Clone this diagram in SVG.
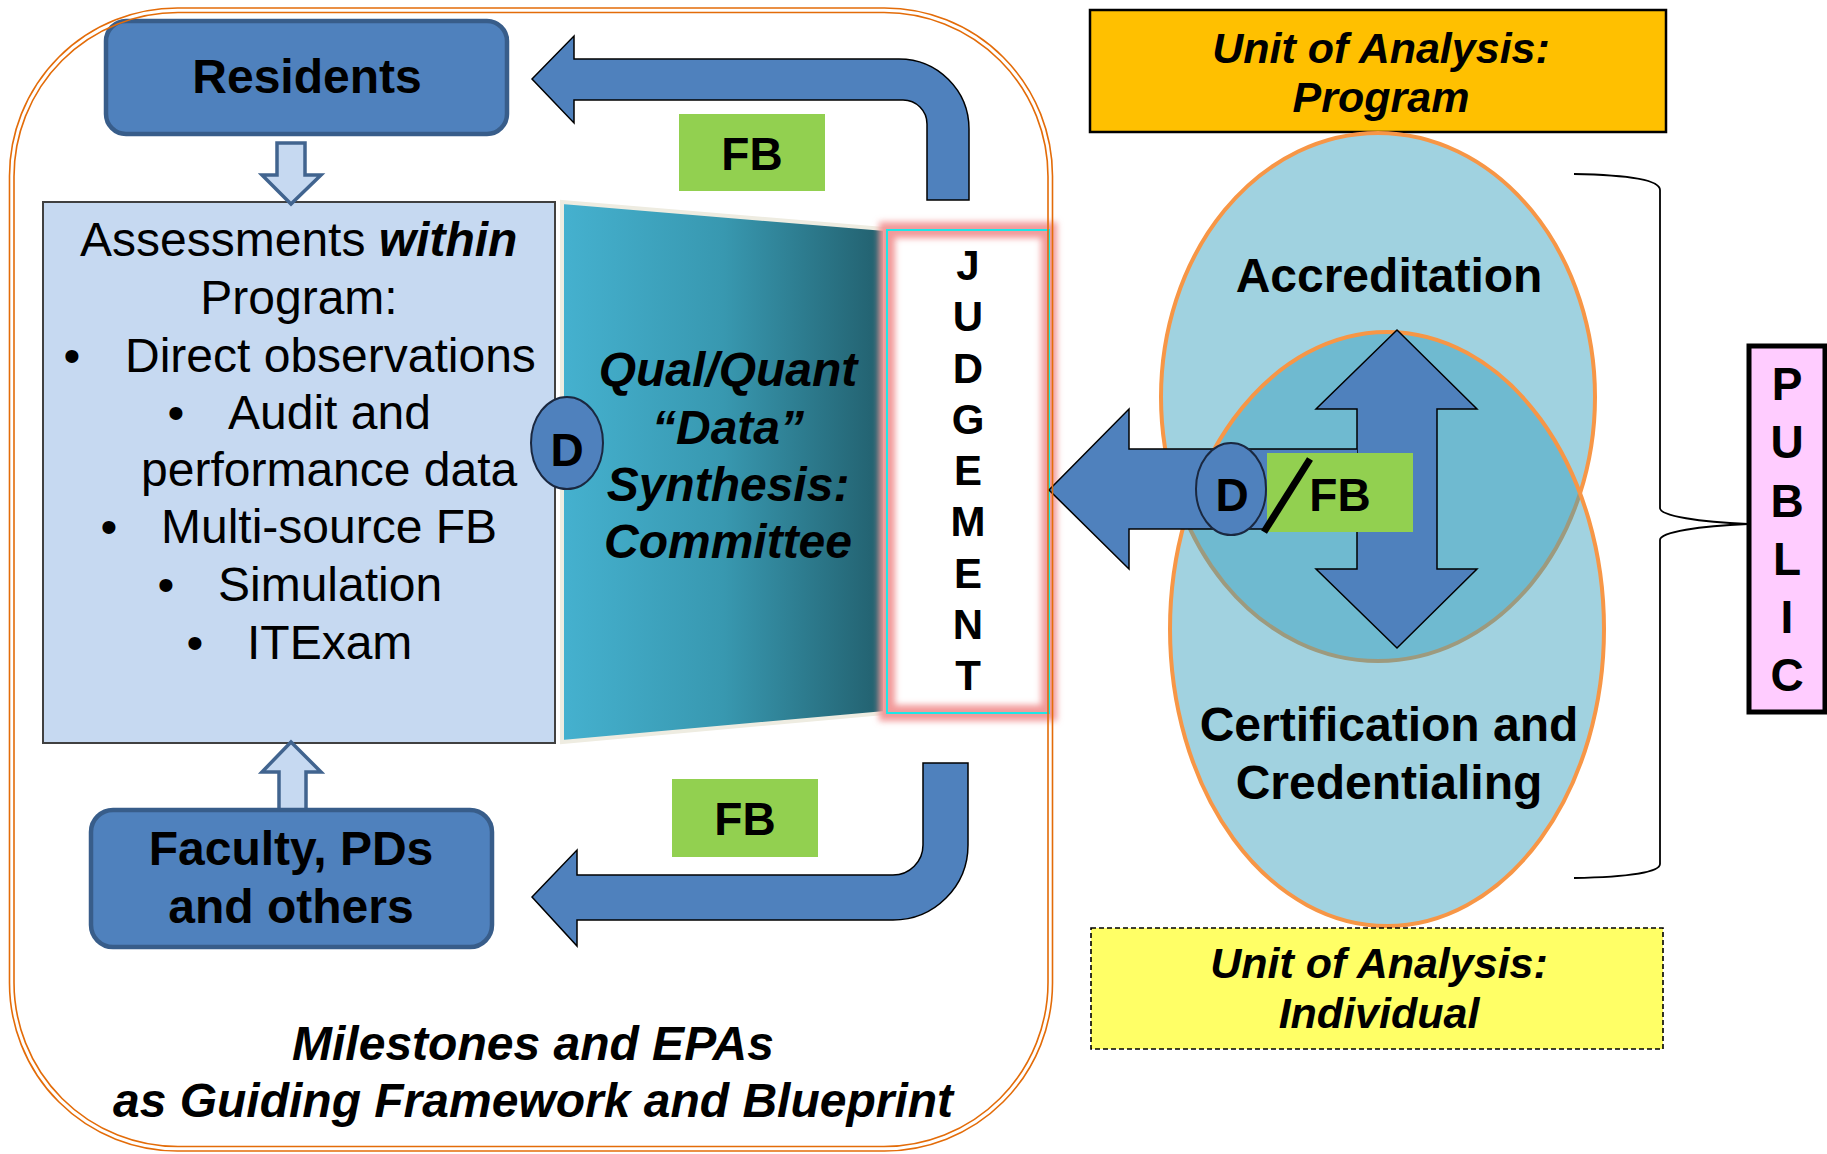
<svg xmlns="http://www.w3.org/2000/svg" width="1827" height="1154" viewBox="0 0 1827 1154">
<defs>
<style>
text{font-family:"Liberation Sans",Arial,sans-serif;fill:#000}
.b{font-weight:bold}
.bi{font-weight:bold;font-style:italic}
.c{text-anchor:middle}
.f48{font-size:48px}
.f46{font-size:46px}
.f43{font-size:43px}
.f42{font-size:42px}
.arrow{fill:#4F81BD;stroke:#000;stroke-width:1.5;stroke-linejoin:miter}
.hollow{fill:#C6D9F1;stroke:#41648F;stroke-width:3.5;stroke-linejoin:miter}
.fb{fill:#92D050}
.blue{fill:#4F81BD;stroke:#385D8A;stroke-width:4.5}
.dc{fill:#4F81BD;stroke:#1A2840;stroke-width:2}
.frame{fill:none;stroke:#E36C09;stroke-width:1.6}
.ell{stroke:#F79646;stroke-width:4}
</style>
<linearGradient id="teal" x1="0" y1="0" x2="1" y2="0">
<stop offset="0" stop-color="#45B1CF"/>
<stop offset="0.5" stop-color="#3898B0"/>
<stop offset="1" stop-color="#225F6D"/>
</linearGradient>
<filter id="glow" x="-20%" y="-10%" width="140%" height="120%"><feGaussianBlur stdDeviation="3"/></filter>
</defs>
<rect width="1827" height="1154" fill="#fff"/>

<g id="assessments">
<rect x="43" y="202" width="512" height="541" fill="#C6D9F1" stroke="#404040" stroke-width="2"/>
<text x="80" y="256" class="f48">Assessments <tspan class="bi">within</tspan></text>
<text x="299" y="314" class="f48 c">Program:</text>
<text x="72" y="372" class="f48 c">•</text><text x="125" y="372" class="f48">Direct observations</text>
<text x="176" y="429" class="f48 c">•</text><text x="228" y="429" class="f48">Audit and</text>
<text x="141" y="486" class="f48">performance data</text>
<text x="109" y="543" class="f48 c">•</text><text x="161" y="543" class="f48">Multi-source FB</text>
<text x="166" y="601" class="f48 c">•</text><text x="218" y="601" class="f48">Simulation</text>
<text x="195" y="659" class="f48 c">•</text><text x="247" y="659" class="f48">ITExam</text>
</g>

<g id="synthesis">
<polygon points="562,202 885,229 885,713 562,742" fill="url(#teal)" stroke="#EEECE1" stroke-width="4"/>
<text x="728" y="386" class="bi f48 c">Qual/Quant</text>
<text x="728" y="444" class="bi f48 c">“Data”</text>
<text x="728" y="501" class="bi f48 c">Synthesis:</text>
<text x="728" y="558" class="bi f48 c">Committee</text>
</g>

<g id="judgement">
<rect x="887" y="230" width="162" height="483" fill="#fff"/>
<rect x="887" y="230" width="162" height="483" fill="none" stroke="#F29A9A" stroke-width="16" filter="url(#glow)"/>
<rect x="887" y="230" width="162" height="483" fill="none" stroke="#1EE6E6" stroke-width="2"/>
<text x="968" y="280" class="b f42 c">J</text>
<text x="968" y="331" class="b f42 c">U</text>
<text x="968" y="383" class="b f42 c">D</text>
<text x="968" y="434" class="b f42 c">G</text>
<text x="968" y="485" class="b f42 c">E</text>
<text x="968" y="536" class="b f42 c">M</text>
<text x="968" y="588" class="b f42 c">E</text>
<text x="968" y="639" class="b f42 c">N</text>
<text x="968" y="690" class="b f42 c">T</text>
</g>

<g id="connectors">
<path class="hollow" d="M277,143 L305,143 L305,175 L321,175 L291,204 L262,175 L277,175 Z"/>
<path class="hollow" d="M291,742 L321,772 L306,772 L306,810 L279,810 L279,772 L262,772 Z"/>
<path class="arrow" d="M532,79 L574,36 L574,59 L899,59 A70,70 0 0 1 969,129 L969,200 L927,200 L927,124 A24,24 0 0 0 903,100 L574,100 L574,123 Z"/>
<path class="arrow" d="M532,897 L577,850 L577,875 L893,875 A30,30 0 0 0 923,845 L923,763 L968,763 L968,845 A75,75 0 0 1 893,920 L577,920 L577,946 Z"/>
</g>

<g id="residents">
<rect x="106" y="21" width="401" height="113" rx="20" class="blue"/>
<text x="307" y="93" class="b f48 c">Residents</text>
</g>

<g id="faculty">
<rect x="91" y="810" width="401" height="137" rx="22" class="blue"/>
<text x="291" y="865" class="b f48 c">Faculty, PDs</text>
<text x="291" y="923" class="b f48 c">and others</text>
</g>

<g id="fb-top">
<rect x="679" y="114" width="146" height="77" class="fb"/>
<text x="752" y="170" class="b f46 c">FB</text>
</g>
<g id="fb-bottom">
<rect x="672" y="779" width="146" height="78" class="fb"/>
<text x="745" y="835" class="b f46 c">FB</text>
</g>

<g id="d-left">
<ellipse cx="567" cy="443" rx="36" ry="46" class="dc"/>
<text x="567" y="466" class="b f46 c">D</text>
</g>

<g id="unit-program">
<rect x="1090" y="10" width="576" height="122" fill="#FFC000" stroke="#000" stroke-width="2.5"/>
<text x="1381" y="63" class="bi f43 c">Unit of Analysis:</text>
<text x="1381" y="112" class="bi f43 c">Program</text>
</g>

<g id="accreditation">
<ellipse cx="1378" cy="397" rx="217" ry="264" fill="#A0D2E0" class="ell"/>
</g>
<g id="certification">
<ellipse cx="1387" cy="629" rx="217" ry="297" fill="rgb(55,160,190)" fill-opacity="0.47" class="ell"/>
<text x="1389" y="741" class="b f48 c">Certification and</text>
<text x="1389" y="799" class="b f48 c">Credentialing</text>
</g>
<text x="1389" y="292" class="b f48 c">Accreditation</text>

<g id="right-arrows">
<path class="arrow" d="M1397,330 L1477,409 L1437,409 L1437,569 L1477,569 L1397,648 L1316,569 L1357,569 L1357,409 L1316,409 Z"/>
<path class="arrow" d="M1357,449 L1129,449 L1129,409 L1049,490 L1129,569 L1129,529 L1357,529"/>
</g>

<g id="d-fb-right">
<rect x="1267" y="453" width="146" height="79" class="fb"/>
<ellipse cx="1231" cy="489" rx="35" ry="46" class="dc"/>
<line x1="1310" y1="459" x2="1264" y2="532" stroke="#000" stroke-width="7"/>
<text x="1232" y="511" class="b f46 c">D</text>
<text x="1340" y="511" class="b f46 c">FB</text>
</g>

<g id="brace">
<path d="M1574,174 C1630,175 1660,180 1660,190 L1660,508 C1660,516 1700,522 1748,524 C1700,526 1660,532 1660,540 L1660,864 C1660,872 1630,877 1574,878" fill="none" stroke="#000" stroke-width="1.8"/>
</g>

<g id="public">
<rect x="1749" y="346" width="76" height="366" fill="#FFCCFF" stroke="#000" stroke-width="5"/>
<text x="1787" y="400" class="b f46 c">P</text>
<text x="1787" y="458" class="b f46 c">U</text>
<text x="1787" y="517" class="b f46 c">B</text>
<text x="1787" y="575" class="b f46 c">L</text>
<text x="1787" y="633" class="b f46 c">I</text>
<text x="1787" y="691" class="b f46 c">C</text>
</g>

<g id="unit-individual">
<rect x="1091" y="928" width="572" height="121" fill="#FFFF66" stroke="#000" stroke-width="1.6" stroke-dasharray="5,3"/>
<text x="1379" y="978" class="bi f43 c">Unit of Analysis:</text>
<text x="1379" y="1028" class="bi f43 c">Individual</text>
</g>

<g id="framework">
<rect x="9.5" y="8" width="1043" height="1143" rx="168" class="frame"/>
<rect x="14" y="12.5" width="1034" height="1134" rx="164" class="frame"/>
<text x="533" y="1060" class="bi f48 c">Milestones and EPAs</text>
<text x="533" y="1117" class="bi f48 c">as Guiding Framework and Blueprint</text>
</g>
</svg>
